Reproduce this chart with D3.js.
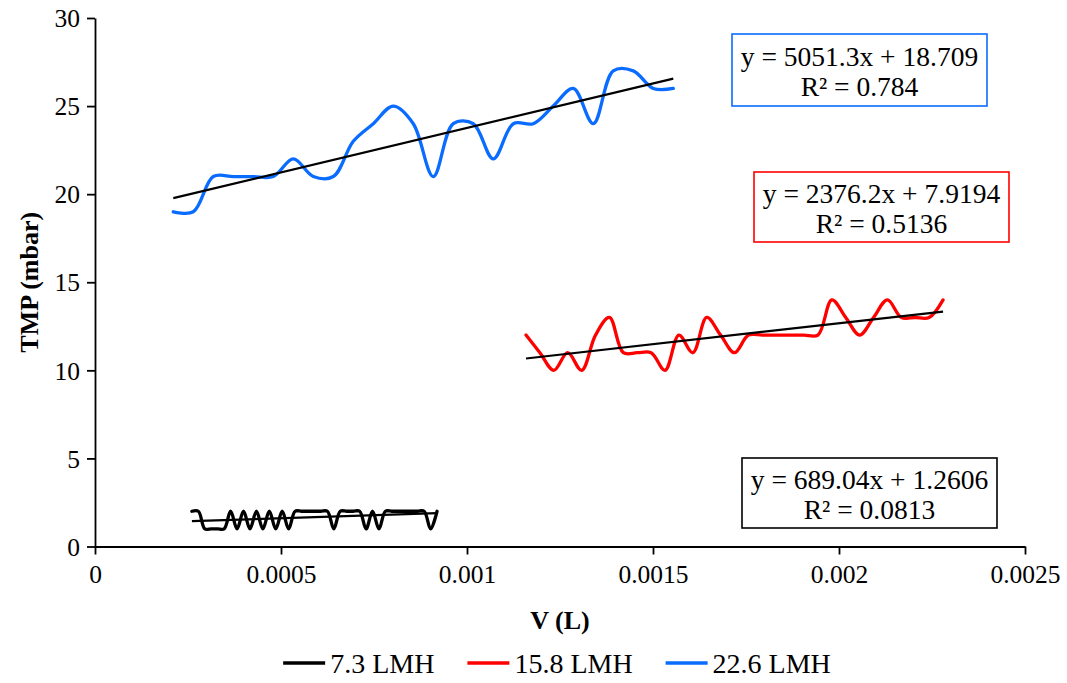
<!DOCTYPE html>
<html>
<head>
<meta charset="utf-8">
<script src="https://cdn.jsdelivr.net/npm/d3@7"></script>
<style>
  body { margin: 0; background: #fff; }
  svg { display: block; }
  text { font-family: "Liberation Serif", "Times New Roman", serif; fill: #000; }
</style>
</head>
<body>
<svg id="chart" width="1067" height="683"></svg>
<script>
// Permeate volume V (L) and transmembrane pressure TMP (mbar) for each flux
const seriesNames = ["7.3 LMH", "15.8 LMH", "22.6 LMH"];
const seriesColors = ["#000000", "#ff0000", "#0a6cff"];

const volume73 = [0.0002605, 0.00027784, 0.00029518, 0.00031252, 0.00032986, 0.0003472, 0.00036454,
  0.00038188, 0.00039922, 0.00041656, 0.0004339, 0.00045124, 0.00046858, 0.00048592, 0.00050326,
  0.0005206, 0.00053794, 0.00055528, 0.00057262, 0.00058996, 0.0006073, 0.00062464, 0.00064198,
  0.00065932, 0.00067666, 0.000694, 0.00071134, 0.00072868, 0.00074602, 0.00076336, 0.0007807,
  0.00079804, 0.00081538, 0.00083272, 0.00085006, 0.0008674, 0.00088474, 0.00090208, 0.00091942];
const tmp73 = [2, 2, 1, 1, 1, 1, 2, 1, 2, 1, 2, 1, 2, 1, 2, 1, 2, 2, 2, 2, 2, 2, 1, 2, 2, 2, 2, 1, 2, 1,
  2, 2, 2, 2, 2, 2, 2, 1, 2];

const volume158 = [0.0011586, 0.00119597, 0.00123334, 0.00127071, 0.00130808, 0.00134545, 0.00138282,
  0.00142019, 0.00145756, 0.00149493, 0.0015323, 0.00156967, 0.00160704, 0.00164441, 0.00168178,
  0.00171915, 0.00175652, 0.00179389, 0.00183126, 0.00186863, 0.001906, 0.00194337, 0.00198074,
  0.00201811, 0.00205548, 0.00209285, 0.00213022, 0.00216759, 0.00220496, 0.00224233, 0.0022797];
const tmp158 = [12, 11, 10, 11, 10, 12, 13, 11, 11, 11, 10, 12, 11, 13, 12, 11, 12, 12, 12, 12, 12, 12,
  14, 13, 12, 13, 14, 13, 13, 13, 14];

const volume226 = [0.0002105, 0.00026426, 0.00031802, 0.00037178, 0.00042554, 0.0004793, 0.00053306,
  0.00058682, 0.00064058, 0.00069434, 0.0007481, 0.00080186, 0.00085562, 0.00090938, 0.00096314,
  0.0010169, 0.00107066, 0.00112442, 0.00117818, 0.00123194, 0.0012857, 0.00133946, 0.00139322,
  0.00144698, 0.00150074, 0.0015545];
const tmp226 = [19, 19, 21, 21, 21, 21, 22, 21, 21, 23, 24, 25, 24, 21, 24, 24, 22, 24, 24, 25, 26, 24,
  27, 27, 26, 26];

// Linear fits shown on the chart
const fitSlope = [689.04, 2376.2, 5051.3];
const fitIntercept = [1.2606, 7.9194, 18.709];
const fitEquation = ["y = 689.04x + 1.2606", "y = 2376.2x + 7.9194", "y = 5051.3x + 18.709"];
const fitR2 = ["R² = 0.0813", "R² = 0.5136", "R² = 0.784"];

// Axis ticks
const xTicks = [0, 0.0005, 0.001, 0.0015, 0.002, 0.0025];
const xTickLabels = ["0", "0.0005", "0.001", "0.0015", "0.002", "0.0025"];
const yTicks = [0, 5, 10, 15, 20, 25, 30];

const series = [
  { name: seriesNames[0], color: seriesColors[0], v: volume73, p: tmp73 },
  { name: seriesNames[1], color: seriesColors[1], v: volume158, p: tmp158 },
  { name: seriesNames[2], color: seriesColors[2], v: volume226, p: tmp226 }
];

const svg = d3.select("#chart");
svg.append("rect").attr("width", 1067).attr("height", 683).attr("fill", "#fff");

const plot = { left: 95, right: 1025, top: 18, bottom: 546.5 };
const x = d3.scaleLinear().domain([0, 0.0025]).range([plot.left, plot.right]);
const y = d3.scaleLinear().domain([0, 30]).range([plot.bottom, plot.top]);

// Axes
const xAxis = d3.axisBottom(x).tickValues(xTicks)
  .tickFormat((d, i) => xTickLabels[i]).tickSizeInner(8).tickSizeOuter(0).tickPadding(10);
const yAxis = d3.axisLeft(y).tickValues(yTicks)
  .tickFormat(d3.format("d")).tickSizeInner(8).tickSizeOuter(0).tickPadding(7);

const gx = svg.append("g").attr("transform", `translate(0,${plot.bottom})`).call(xAxis);
const gy = svg.append("g").attr("transform", `translate(${plot.left},0)`).call(yAxis);
[gx, gy].forEach(g => {
  g.select(".domain").attr("stroke", "#000").attr("stroke-width", 1.8);
  g.selectAll(".tick line").attr("stroke", "#000").attr("stroke-width", 1.8);
  g.selectAll(".tick text").style("font-family", '"Liberation Serif", serif')
    .style("font-size", "25.5px").attr("fill", "#000");
});
gy.selectAll(".tick text").attr("dy", "0.34em");

// Axis titles
svg.append("text")
  .attr("transform", `translate(29,${(plot.top + plot.bottom) / 2}) rotate(-90)`)
  .attr("text-anchor", "middle").attr("dominant-baseline", "central")
  .style("font-size", "26px").style("font-weight", "bold")
  .text("TMP (mbar)");
svg.append("text")
  .attr("x", (plot.left + plot.right) / 2).attr("y", 620)
  .attr("text-anchor", "middle").attr("dominant-baseline", "central")
  .style("font-size", "26px").style("font-weight", "bold")
  .text("V (L)");

// Smoothed data lines
const line = d3.line()
  .x(d => x(d[0])).y(d => y(d[1]))
  .curve(d3.curveCatmullRom.alpha(0.5));

series.forEach(s => {
  const pts = s.v.map((v, i) => [v, s.p[i]]);
  svg.append("path").datum(pts)
    .attr("d", line)
    .attr("fill", "none")
    .attr("stroke", s.color)
    .attr("stroke-width", 3.3)
    .attr("stroke-linejoin", "round")
    .attr("stroke-linecap", "round");
});

// Trend lines over each series' volume range
series.forEach((s, i) => {
  const [v0, v1] = d3.extent(s.v);
  svg.append("line")
    .attr("x1", x(v0)).attr("y1", y(fitSlope[i] * v0 + fitIntercept[i]))
    .attr("x2", x(v1)).attr("y2", y(fitSlope[i] * v1 + fitIntercept[i]))
    .attr("stroke", "#000").attr("stroke-width", 2.2);
});

// Equation boxes
const boxes = [
  { x: 742, y: 458, w: 255, h: 70 },
  { x: 754, y: 172, w: 255, h: 70 },
  { x: 732, y: 34, w: 255, h: 72 }
];
boxes.forEach((b, i) => {
  const g = svg.append("g");
  g.append("rect")
    .attr("x", b.x).attr("y", b.y).attr("width", b.w).attr("height", b.h)
    .attr("fill", "#fff").attr("stroke", series[i].color).attr("stroke-width", 1.6);
  g.append("text")
    .attr("x", b.x + b.w / 2).attr("y", b.y + b.h / 2 - 14)
    .attr("text-anchor", "middle").attr("dominant-baseline", "central")
    .style("font-size", "27.5px").text(fitEquation[i]);
  g.append("text")
    .attr("x", b.x + b.w / 2).attr("y", b.y + b.h / 2 + 16)
    .attr("text-anchor", "middle").attr("dominant-baseline", "central")
    .style("font-size", "27.5px").text(fitR2[i]);
});

// Legend
const legend = svg.append("g");
const legendY = 663;
const swatch = 42, swatchGap = 5, itemGap = 33;
let cursor = 0;
series.forEach(s => {
  const item = legend.append("g").attr("transform", `translate(${cursor},0)`);
  item.append("line")
    .attr("x1", 0).attr("x2", swatch).attr("y1", legendY).attr("y2", legendY)
    .attr("stroke", s.color).attr("stroke-width", 3.3);
  const t = item.append("text")
    .attr("x", swatch + swatchGap).attr("y", legendY)
    .attr("dominant-baseline", "central")
    .style("font-size", "28px").text(s.name);
  cursor += swatch + swatchGap + t.node().getComputedTextLength() + itemGap;
});
const legendWidth = cursor - itemGap;
legend.attr("transform", `translate(${(plot.left + plot.right) / 2 - 3 - legendWidth / 2},0)`);
</script>
</body>
</html>
